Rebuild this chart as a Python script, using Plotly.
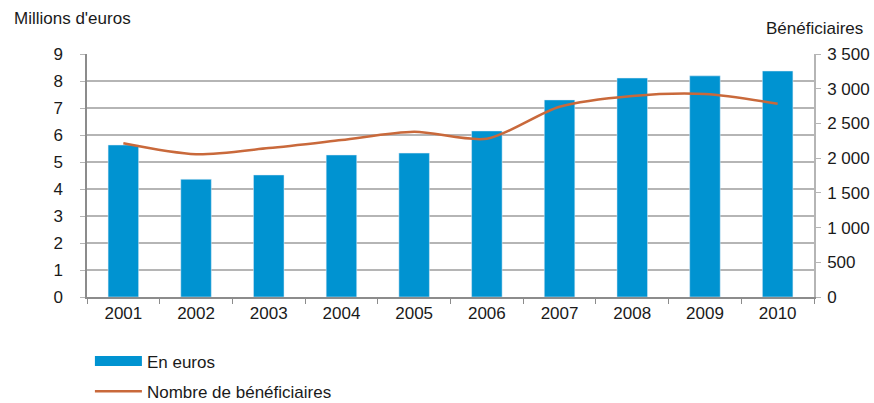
import plotly.graph_objects as go

years = ["2001", "2002", "2003", "2004", "2005", "2006", "2007", "2008", "2009", "2010"]
euros = [5.63, 4.36, 4.52, 5.26, 5.33, 6.15, 7.30, 8.11, 8.19, 8.37]
beneficiaires = [2213, 2055, 2145, 2261, 2380, 2280, 2740, 2895, 2923, 2783]

left_ticks = list(range(0, 10))
right_ticks = [0, 500, 1000, 1500, 2000, 2500, 3000, 3500]
right_labels = ["0", "500", "1 000", "1 500", "2 000", "2 500", "3 000", "3 500"]

font = "Liberation Sans, Arial, sans-serif"
fs = 17
blue = "#0093D1"
orange = "#C9693B"

fig = go.Figure()
fig.add_trace(go.Bar(
    x=years, y=euros, name="En euros",
    marker_color=blue, yaxis="y", showlegend=False,
))
fig.add_trace(go.Scatter(
    x=years, y=beneficiaires, name="Nombre de bénéficiaires",
    mode="lines", line=dict(color=orange, width=2.5, shape="spline", smoothing=0.8),
    yaxis="y2", legendgroup="b",
))
# legend entry for the bars drawn as a wide block, like the original
fig.add_trace(go.Scatter(
    x=[None], y=[None], name="En euros", mode="lines",
    line=dict(color=blue, width=12), legendgroup="a", legendrank=1,
))

fig.update_layout(
    width=874, height=403,
    margin=dict(l=87, r=60, t=54, b=106),
    plot_bgcolor="white", paper_bgcolor="white",
    font=dict(family=font, size=fs, color="#1a1a1a"),
    bargap=0.58,
    showlegend=True,
    legend=dict(x=0.004, y=0.1475, xref="paper", yref="container",
                xanchor="left", yanchor="top",
                font=dict(size=fs), tracegroupgap=5, itemwidth=47,
                traceorder="grouped"),
    xaxis=dict(
        showline=True, linecolor="#8c8c8c", linewidth=1.5,
        ticks="outside", tickson="boundaries", ticklen=5, tickcolor="#8c8c8c",
        showgrid=False, tickfont=dict(size=fs), automargin=False,
    ),
    yaxis=dict(
        range=[0, 9], tickvals=left_ticks,
        showline=True, linecolor="#8c8c8c", linewidth=1.5,
        ticks="outside", ticklen=5, tickcolor="#b5b5b5",
        gridcolor="#b5b5b5", gridwidth=1.5, zeroline=False,
        tickfont=dict(size=fs), ticklabelstandoff=14, automargin=False,
    ),
    yaxis2=dict(
        range=[0, 3500], tickvals=right_ticks, ticktext=right_labels,
        overlaying="y", side="right",
        showline=True, linecolor="#b5b5b5", linewidth=1.5,
        ticks="outside", ticklen=5, tickcolor="#b5b5b5",
        showgrid=False, zeroline=False, tickfont=dict(size=fs),
        ticklabelstandoff=3, automargin=False,
    ),
)

# axis titles, placed from pixel positions converted to paper coordinates
pw, ph = 874 - 87 - 60, 403 - 54 - 106
fig.add_annotation(text="Millions d'euros", x=(12 - 87) / pw, y=(297 - 18) / ph,
                   xref="paper", yref="paper", showarrow=False,
                   xanchor="left", yanchor="middle", font=dict(size=fs))
fig.add_annotation(text="Bénéficiaires", x=(865 - 87) / pw, y=(297 - 28) / ph,
                   xref="paper", yref="paper", showarrow=False,
                   xanchor="right", yanchor="middle", font=dict(size=fs))

# the page's default 8px body margin would push the figure off the window
fig.write_html("out.html", config={"displayModeBar": False},
               post_script="document.body.style.margin='0';")
